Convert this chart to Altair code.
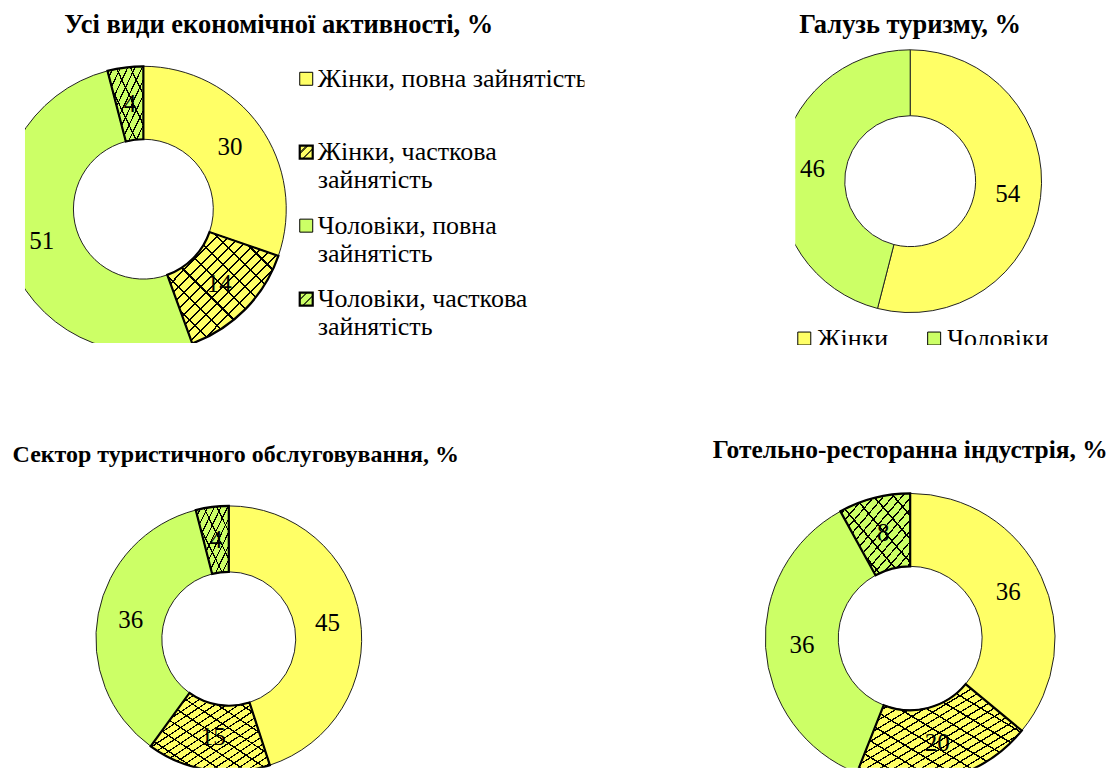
import altair as alt
import pandas as pd

# ---------------- data ----------------
categories = ["Жінки, повна зайнятість", "Жінки, часткова зайнятість",
              "Чоловіки, повна зайнятість", "Чоловіки, часткова зайнятість"]
legend_labels = ["Жінки, повна зайнятість", "Жінки, часткова\nзайнятість",
                 "Чоловіки, повна\nзайнятість", "Чоловіки, часткова\nзайнятість"]
all_activity = [30, 14, 51, 4]
tourism_service = [45, 15, 36, 4]
hotel_restaurant = [36, 20, 36, 8]
sex_categories = ["Жінки", "Чоловіки"]
tourism_industry = [54, 46]
titles = ["Усі види економічної активності, %", "Галузь туризму, %",
          "Сектор туристичного обслуговування, %", "Готельно-ресторанна індустрія, %"]

# ---------------- style ----------------
YELLOW = "#FFFF66"
GREEN = "#CCFF66"
FOUR_COLORS = [YELLOW, YELLOW, GREEN, GREEN]
TWO_COLORS = [YELLOW, GREEN]
FONT = "Liberation Serif, Tinos, Noto Serif, DejaVu Serif, FreeSerif, Times New Roman, Times, serif"
LABEL_SIZE = 25


def stripes(n, w=0.2, flip=False):
    stops = []
    for i in range(n):
        a = i / n
        m = (i + 1 - w) / n
        b = (i + 1) / n
        stops += [{"offset": a, "color": "rgba(0,0,0,0)"},
                  {"offset": m, "color": "rgba(0,0,0,0)"},
                  {"offset": m, "color": "#000000"},
                  {"offset": b, "color": "#000000"}]
    if flip:
        return {"gradient": "linear", "x1": 1, "y1": 0, "x2": 0, "y2": 1, "stops": stops}
    return {"gradient": "linear", "x1": 0, "y1": 0, "x2": 1, "y2": 1, "stops": stops}


def frame(cats, values):
    return pd.DataFrame({"cat": cats, "value": values, "idx": list(range(len(cats)))})


def donut(df, cats, colors, cx, cy, R, r, hatch=None):
    theta = alt.Theta("value:Q", stack=True)
    order = alt.Order("idx:Q")
    pos = dict(x=alt.value(cx), y=alt.value(cy))
    base = alt.Chart(df).mark_arc(
        outerRadius=R, innerRadius=r, stroke="#222222", strokeWidth=1, clip=True
    ).encode(
        theta=theta, order=order,
        color=alt.Color("cat:N", scale=alt.Scale(domain=cats, range=colors), legend=None),
        **pos)
    layers = [base]
    if hatch:
        # brick-like hatching: dense main diagonal plus sparse cross diagonal
        for flip, k, w in ((False, 1.0, 0.18), (True, 0.5, 0.1)):
            fill = (alt.when(alt.datum.cat == cats[1])
                    .then(alt.value(stripes(max(2, int(hatch[0] * k)), w, flip)))
                    .when(alt.datum.cat == cats[3])
                    .then(alt.value(stripes(max(2, int(hatch[1] * k)), w, flip)))
                    .otherwise(alt.value("rgba(0,0,0,0)")))
            over = alt.Chart(df).mark_arc(
                outerRadius=R, innerRadius=r, strokeWidth=0, clip=True
            ).encode(theta=theta, order=order, fill=fill, **pos)
            layers.append(over)
        sw = (alt.when(alt.FieldOneOfPredicate(field="cat", oneOf=[cats[1], cats[3]]))
              .then(alt.value(2.2)).otherwise(alt.value(0)))
        border = alt.Chart(df).mark_arc(
            outerRadius=R, innerRadius=r, stroke="#000000", fillOpacity=0, clip=True
        ).encode(theta=theta, order=order, strokeWidth=sw, **pos)
        layers.append(border)
    labels = alt.Chart(df).mark_text(
        radius=(R + r) / 2, font=FONT, fontSize=LABEL_SIZE, color="#000000", clip=True
    ).encode(theta=theta, order=order, text=alt.Text("value:Q", format="d"), **pos)
    layers.append(labels)
    return layers


def title_mark(text, x, y, size):
    return alt.Chart(pd.DataFrame({"t": [text]})).mark_text(
        font=FONT, fontWeight="bold", fontSize=size, align="center", baseline="middle",
        color="#000000"
    ).encode(text="t:N", x=alt.value(x), y=alt.value(y))


def spacer(w, h=1):
    return alt.Chart(pd.DataFrame({"v": [0]})).mark_rect(opacity=0).encode(
        x=alt.value(0), x2=alt.value(1), y=alt.value(0), y2=alt.value(1)
    ).properties(width=w, height=h)


# ---------------- panel A: all activities ----------------
dfA = frame(categories, all_activity)
legA = pd.DataFrame({"cat": categories, "label": legend_labels})
ysc = alt.Scale(type="point", domain=categories, range=[70.5, 291], padding=0)
colA = alt.Color("cat:N", scale=alt.Scale(domain=categories, range=FOUR_COLORS), legend=None)
partial = alt.FieldOneOfPredicate(field="cat", oneOf=[categories[1], categories[3]])
legA_sq = alt.Chart(legA).mark_square(size=169, stroke="#000000", opacity=1, clip=True).encode(
    y=alt.Y("cat:N", scale=ysc, axis=None), x=alt.value(281.5), color=colA,
    strokeWidth=alt.when(partial).then(alt.value(2.2)).otherwise(alt.value(1)))
legA_hatch = alt.Chart(legA).mark_square(size=169, strokeWidth=0, clip=True).encode(
    y=alt.Y("cat:N", scale=ysc, axis=None), x=alt.value(281.5),
    fill=alt.when(partial).then(alt.value(stripes(3, 0.25))).otherwise(alt.value("rgba(0,0,0,0)")))
legA_txt = alt.Chart(legA).mark_text(
    align="left", baseline="top", font=FONT, fontSize=26, lineBreak="\n", lineHeight=28,
    dy=-13, color="#000000", clip=True
).encode(y=alt.Y("cat:N", scale=ysc, axis=None), x=alt.value(293), text="label:N")

panelA = alt.layer(
    *donut(dfA, categories, FOUR_COLORS, 118.5, 201, 143, 70, hatch=(20, 10)),
    title_mark(titles[0], 254, 17, 26.5),
    legA_sq, legA_hatch, legA_txt
).properties(width=560, height=335)

# ---------------- panel B: tourism industry ----------------
dfB = frame(sex_categories, tourism_industry)
legB = pd.DataFrame({"cat": sex_categories})
xsc = alt.Scale(type="point", domain=sex_categories, range=[9, 139], padding=0)
colB = alt.Color("cat:N", scale=alt.Scale(domain=sex_categories, range=TWO_COLORS), legend=None)
legB_sq = alt.Chart(legB).mark_square(size=169, stroke="#000000", strokeWidth=1, opacity=1, clip=True).encode(
    x=alt.X("cat:N", scale=xsc, axis=None), y=alt.value(330.5), color=colB)
legB_txt = alt.Chart(legB).mark_text(
    align="left", baseline="alphabetic", font=FONT, fontSize=26, dx=13, color="#000000", clip=True
).encode(x=alt.X("cat:N", scale=xsc, axis=None), y=alt.value(339), text="cat:N")

panelB = alt.layer(
    *donut(dfB, sex_categories, TWO_COLORS, 115, 173, 131.5, 65.5),
    title_mark(titles[1], 115, 17, 26.5),
    legB_sq, legB_txt
).properties(width=312, height=337)

# ---------------- panel C: tourism service ----------------
dfC = frame(categories, tourism_service)
panelC = alt.layer(
    *donut(dfC, categories, FOUR_COLORS, 221, 294, 133, 67, hatch=(20, 10)),
    title_mark(titles[2], 228, 110, 24)
).properties(width=692, height=423)

# ---------------- panel D: hotels & restaurants ----------------
dfD = frame(categories, hotel_restaurant)
panelD = alt.layer(
    *donut(dfD, categories, FOUR_COLORS, 211, 293.5, 145, 72, hatch=(24, 15)),
    title_mark(titles[3], 211, 105, 25.5)
).properties(width=408, height=423)

indep = dict(color="independent", theta="independent", x="independent", y="independent")
row1 = alt.hconcat(spacer(17), panelA, spacer(211), panelB, spacing=0).resolve_scale(**indep)
row2 = alt.hconcat(panelC, panelD, spacing=0).resolve_scale(**indep)

chart = alt.vconcat(row1, row2, spacing=0).resolve_scale(**indep).properties(
    padding=0, background="white"
).configure_view(strokeWidth=0)

chart.save("out.html", embed_options={"renderer": "svg", "actions": False})
